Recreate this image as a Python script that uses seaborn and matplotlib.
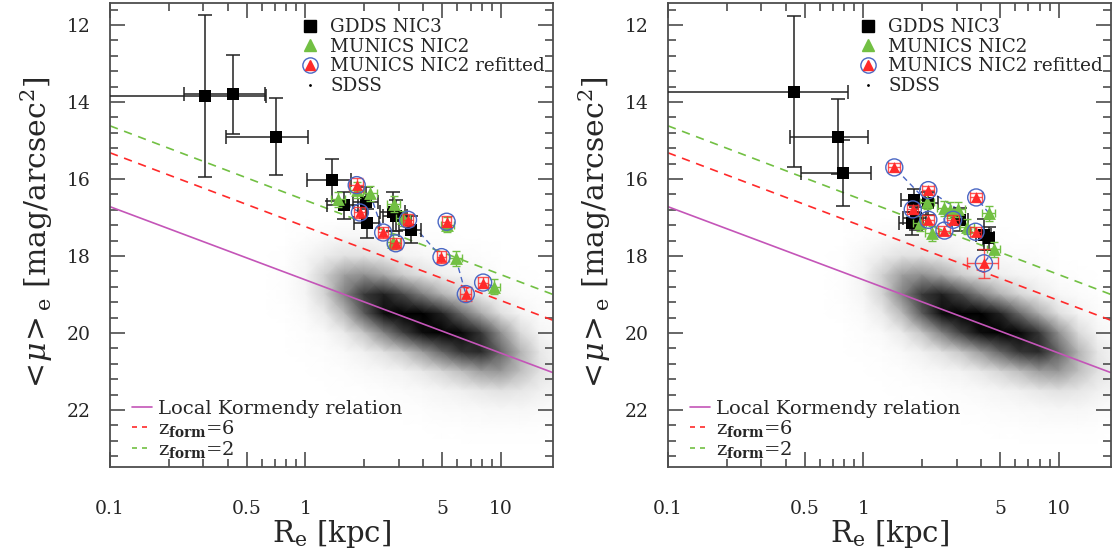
import numpy as np
import matplotlib
matplotlib.use("Agg")
import matplotlib.pyplot as plt
from matplotlib.lines import Line2D
from matplotlib.ticker import FixedLocator, MultipleLocator, AutoMinorLocator, NullFormatter, FixedFormatter
import seaborn as sns

# relation lines: <mu>_e at R_e = 0.1 and 18.5 kpc
line_r = [0.1, 18.5]
kormendy_mu = [16.72, 21.03]
zform6_mu = [15.32, 19.67]
zform2_mu = [14.62, 19.00]

# SDSS cloud, density (rows: mu, columns: log10 R_e)
sdss_logr = [-0.2, -0.1, 0.0, 0.1, 0.2, 0.3, 0.4, 0.5, 0.6, 0.7, 0.8, 0.9, 1.0, 1.1, 1.2, 1.3]
sdss_mu = [17.0, 17.5, 18.0, 18.5, 19.0, 19.5, 20.0, 20.5, 21.0, 21.5, 22.0, 22.5, 23.0]
sdss_density = [
    [0.00, 0.00, 0.00, 0.00, 0.00, 0.00, 0.00, 0.00, 0.00, 0.00, 0.00, 0.00, 0.00, 0.00, 0.00, 0.00],
    [0.00, 0.00, 0.02, 0.04, 0.07, 0.06, 0.05, 0.03, 0.02, 0.01, 0.00, 0.00, 0.00, 0.00, 0.00, 0.00],
    [0.00, 0.01, 0.06, 0.14, 0.20, 0.19, 0.15, 0.10, 0.07, 0.04, 0.03, 0.02, 0.00, 0.00, 0.00, 0.00],
    [0.00, 0.02, 0.09, 0.28, 0.45, 0.50, 0.43, 0.30, 0.20, 0.13, 0.08, 0.05, 0.02, 0.01, 0.00, 0.00],
    [0.00, 0.02, 0.08, 0.27, 0.54, 0.78, 0.85, 0.74, 0.55, 0.39, 0.25, 0.14, 0.07, 0.03, 0.01, 0.00],
    [0.00, 0.01, 0.04, 0.15, 0.37, 0.68, 0.91, 1.00, 0.96, 0.84, 0.63, 0.41, 0.21, 0.09, 0.03, 0.01],
    [0.00, 0.00, 0.02, 0.05, 0.15, 0.32, 0.54, 0.76, 0.91, 0.98, 0.93, 0.79, 0.50, 0.24, 0.08, 0.03],
    [0.00, 0.00, 0.01, 0.02, 0.05, 0.11, 0.20, 0.31, 0.46, 0.64, 0.79, 0.82, 0.64, 0.39, 0.17, 0.07],
    [0.00, 0.00, 0.00, 0.01, 0.02, 0.04, 0.07, 0.10, 0.16, 0.25, 0.35, 0.45, 0.47, 0.35, 0.19, 0.10],
    [0.00, 0.00, 0.00, 0.00, 0.01, 0.01, 0.02, 0.03, 0.05, 0.08, 0.12, 0.16, 0.19, 0.17, 0.12, 0.08],
    [0.00, 0.00, 0.00, 0.00, 0.00, 0.00, 0.01, 0.01, 0.02, 0.03, 0.04, 0.05, 0.06, 0.06, 0.04, 0.03],
    [0.00, 0.00, 0.00, 0.00, 0.00, 0.00, 0.00, 0.00, 0.00, 0.01, 0.01, 0.02, 0.02, 0.02, 0.01, 0.01],
    [0.00, 0.00, 0.00, 0.00, 0.00, 0.00, 0.00, 0.00, 0.00, 0.00, 0.00, 0.00, 0.00, 0.00, 0.00, 0.00],
]

# ---- left panel ----
gdds_l_r = [0.305, 0.428, 0.71, 1.37, 1.57, 2.05, 2.07, 2.82, 2.90, 3.45]
gdds_l_mu = [13.84, 13.80, 14.90, 16.03, 16.68, 16.61, 17.15, 16.85, 16.95, 17.32]
gdds_l_rerr = [0.32, 0.19, 0.32, 0.35, 0.28, 0.30, 0.30, 0.40, 0.40, 0.45]
gdds_l_muerr = [2.10, 1.03, 1.00, 0.55, 0.35, 0.40, 0.37, 0.50, 0.40, 0.35]

mun_l_r = [1.47, 1.84, 2.14, 2.84, 3.17, 2.82, 5.33, 5.88, 9.24]
mun_l_mu = [16.53, 16.29, 16.37, 16.65, 17.02, 17.63, 17.19, 18.06, 18.80]
mun_l_rerr = [0.12, 0.15, 0.18, 0.22, 0.25, 0.22, 0.40, 0.45, 0.65]
mun_l_muerr = [0.20, 0.20, 0.20, 0.20, 0.20, 0.20, 0.20, 0.20, 0.20]

ref_l_r = [1.90, 1.83, 2.50, 4.97, 3.35, 2.90, 5.28, 6.62, 8.12]
ref_l_mu = [16.87, 16.16, 17.39, 18.03, 17.06, 17.67, 17.11, 18.99, 18.69]
ref_l_rerr = [0.12, 0.15, 0.15, 0.25, 0.20, 0.18, 0.30, 0.45, 0.45]
ref_l_muerr = [0.15, 0.18, 0.15, 0.15, 0.15, 0.15, 0.15, 0.18, 0.15]

# ---- right panel ----
gdds_r_r = [0.44, 0.74, 0.79, 1.81, 2.15, 1.85, 1.78, 3.14, 4.14, 4.38]
gdds_r_mu = [13.73, 14.90, 15.84, 16.55, 16.63, 17.02, 17.15, 17.06, 17.45, 17.54]
gdds_r_rerr = [0.39, 0.32, 0.31, 0.25, 0.25, 0.25, 0.25, 0.30, 0.35, 0.30]
gdds_r_muerr = [1.95, 0.97, 0.85, 0.30, 0.30, 0.30, 0.30, 0.30, 0.40, 0.30]

mun_r_r = [2.12, 3.05, 1.95, 2.25, 2.58, 2.79, 4.39, 3.41, 4.66]
mun_r_mu = [16.59, 16.79, 17.15, 17.41, 16.76, 16.81, 16.89, 17.24, 17.83]
mun_r_rerr = [0.18, 0.25, 0.15, 0.18, 0.20, 0.22, 0.35, 0.28, 0.35]
mun_r_muerr = [0.20, 0.20, 0.20, 0.20, 0.20, 0.20, 0.20, 0.20, 0.20]

ref_r_r = [1.44, 2.15, 1.79, 2.15, 2.60, 2.88, 3.78, 3.75, 4.14]
ref_r_mu = [15.70, 16.29, 16.79, 17.06, 17.34, 17.06, 16.48, 17.37, 18.19]
ref_r_rerr = [0.10, 0.15, 0.12, 0.15, 0.18, 0.20, 0.25, 0.25, 0.75]
ref_r_muerr = [0.12, 0.12, 0.12, 0.12, 0.12, 0.12, 0.12, 0.12, 0.37]

x_major = [0.1, 0.5, 1, 5, 10]
x_major_labels = ["0.1", "0.5", "1", "5", "10"]
x_minor = [0.2, 0.3, 0.4, 0.6, 0.7, 0.8, 0.9, 2, 3, 4, 6, 7, 8, 9]

C_GREEN = "#72c043"
C_RED = "#ff2a2a"
C_BLUE = "#4a67c4"
C_MAGENTA = "#c455b8"
C_AXIS = "#4d4d4d"

sns.set_style("ticks")
plt.rcParams['font.family'] = ['DejaVu Serif']
plt.rcParams['mathtext.fontset'] = 'dejavuserif'


def draw_panel(ax, g_r, g_mu, g_rerr, g_muerr, m_r, m_mu, m_rerr, m_muerr,
               f_r, f_mu, f_rerr, f_muerr):
    ax.set_xscale("log")

    # SDSS cloud
    mesh_r, mesh_mu = np.meshgrid(10 ** np.array(sdss_logr), sdss_mu)
    ax.pcolormesh(mesh_r, mesh_mu, np.array(sdss_density), shading="gouraud",
                  cmap="Greys", vmin=0, vmax=0.95, zorder=0, rasterized=True)

    # relations
    sns.lineplot(x=line_r, y=kormendy_mu, color=C_MAGENTA, lw=1.2, ax=ax, zorder=2)
    sns.lineplot(x=line_r, y=zform6_mu, color=C_RED, lw=1.2, ls=(0, (5, 4)), ax=ax, zorder=2)
    sns.lineplot(x=line_r, y=zform2_mu, color=C_GREEN, lw=1.2, ls=(0, (5, 4)), ax=ax, zorder=2)

    # links original -> refitted
    for gx, gy, rx, ry in zip(m_r, m_mu, f_r, f_mu):
        ax.plot([gx, rx], [gy, ry], color=C_BLUE, lw=1.0, ls=(0, (4, 3)), zorder=3)

    # GDDS NIC3
    ax.errorbar(g_r, g_mu, xerr=g_rerr, yerr=g_muerr, fmt="none", ecolor="#222222",
                elinewidth=1.1, capsize=5, capthick=1.1, zorder=4)
    sns.scatterplot(x=g_r, y=g_mu, marker="s", s=70, color="black", edgecolor="black",
                    linewidth=0, ax=ax, zorder=5, legend=False)

    # MUNICS NIC2
    ax.errorbar(m_r, m_mu, xerr=m_rerr, yerr=m_muerr, fmt="none", ecolor=C_GREEN,
                elinewidth=1.0, capsize=3, zorder=6)
    sns.scatterplot(x=m_r, y=m_mu, marker="^", s=85, color=C_GREEN, edgecolor=C_GREEN,
                    linewidth=0, ax=ax, zorder=7, legend=False)

    # MUNICS NIC2 refitted
    ax.errorbar(f_r, f_mu, xerr=f_rerr, yerr=f_muerr, fmt="none", ecolor=C_RED,
                elinewidth=1.0, capsize=4, alpha=0.8, zorder=8)
    sns.scatterplot(x=f_r, y=f_mu, marker="o", s=150, facecolor="none", edgecolor=C_BLUE,
                    linewidth=1.0, ax=ax, zorder=9, legend=False)
    sns.scatterplot(x=f_r, y=f_mu, marker="^", s=60, color=C_RED, edgecolor=C_RED,
                    linewidth=0, ax=ax, zorder=10, legend=False)

    ax.set_xlim(0.1, 18.5)
    ax.set_ylim(23.48, 11.43)

    ax.xaxis.set_major_locator(FixedLocator(x_major))
    ax.xaxis.set_major_formatter(FixedFormatter(x_major_labels))
    ax.xaxis.set_minor_locator(FixedLocator(x_minor))
    ax.xaxis.set_minor_formatter(NullFormatter())
    ax.yaxis.set_major_locator(MultipleLocator(2))
    ax.yaxis.set_minor_locator(AutoMinorLocator(5))
    ax.tick_params(which="both", direction="in", top=True, right=True,
                   color=C_AXIS, labelsize=13.5, width=1.2)
    ax.tick_params(which="major", length=11)
    ax.tick_params(which="minor", length=5.5)
    ax.tick_params(axis="x", which="major", pad=24)
    ax.tick_params(axis="y", which="major", pad=14)
    for sp in ax.spines.values():
        sp.set_color(C_AXIS)
        sp.set_linewidth(1.3)

    ax.set_xlabel(r"R$_{\rm e}$ [kpc]", fontsize=21)
    ax.set_ylabel(r"$<\!\mu\!>_{\rm e}$ [mag/arcsec$^{2}$]", fontsize=21.5)
    ax.xaxis.set_label_coords(0.5, -0.11)
    ax.yaxis.set_label_coords(-0.125, 0.5)

    # legends
    h_gdds = Line2D([], [], ls="none", marker="s", ms=8, color="black")
    h_mun = Line2D([], [], ls="none", marker="^", ms=9, color=C_GREEN)
    h_circ = Line2D([], [], ls="none", marker="o", ms=11, mfc="none", mec=C_BLUE, mew=1.0)
    h_tri = Line2D([], [], ls="none", marker="^", ms=7.5, color=C_RED)
    h_sdss = Line2D([], [], ls="none", marker=".", ms=2, color="black")
    leg1 = ax.legend([h_gdds, h_mun, (h_circ, h_tri), h_sdss],
                     ["GDDS NIC3", "MUNICS NIC2", "MUNICS NIC2 refitted", "SDSS"],
                     loc="upper left", bbox_to_anchor=(0.40, 0.995), frameon=False,
                     fontsize=13.2, handlelength=1.1, handletextpad=0.55,
                     labelspacing=0.09, borderaxespad=0.3)
    ax.add_artist(leg1)

    h_k = Line2D([], [], color=C_MAGENTA, lw=1.2)
    h_6 = Line2D([], [], color=C_RED, lw=1.2, ls=(0, (3, 3)))
    h_2 = Line2D([], [], color=C_GREEN, lw=1.2, ls=(0, (3, 3)))
    ax.legend([h_k, h_6, h_2],
              ["Local Kormendy relation", r"z$_{\mathbf{form}}$=6", r"z$_{\mathbf{form}}$=2"],
              loc="lower left", bbox_to_anchor=(0.02, -0.014), frameon=False,
              fontsize=14, handlelength=1.0, handletextpad=0.3,
              labelspacing=0.0, borderaxespad=0.3)


fig = plt.figure(figsize=(11.17, 5.57), dpi=100)
ax1 = fig.add_axes([0.0985, 0.1616, 0.3966, 0.833])
ax2 = fig.add_axes([0.598, 0.1616, 0.3966, 0.833])

draw_panel(ax1, gdds_l_r, gdds_l_mu, gdds_l_rerr, gdds_l_muerr,
           mun_l_r, mun_l_mu, mun_l_rerr, mun_l_muerr,
           ref_l_r, ref_l_mu, ref_l_rerr, ref_l_muerr)
draw_panel(ax2, gdds_r_r, gdds_r_mu, gdds_r_rerr, gdds_r_muerr,
           mun_r_r, mun_r_mu, mun_r_rerr, mun_r_muerr,
           ref_r_r, ref_r_mu, ref_r_rerr, ref_r_muerr)

fig.savefig("out.png", dpi=100)
